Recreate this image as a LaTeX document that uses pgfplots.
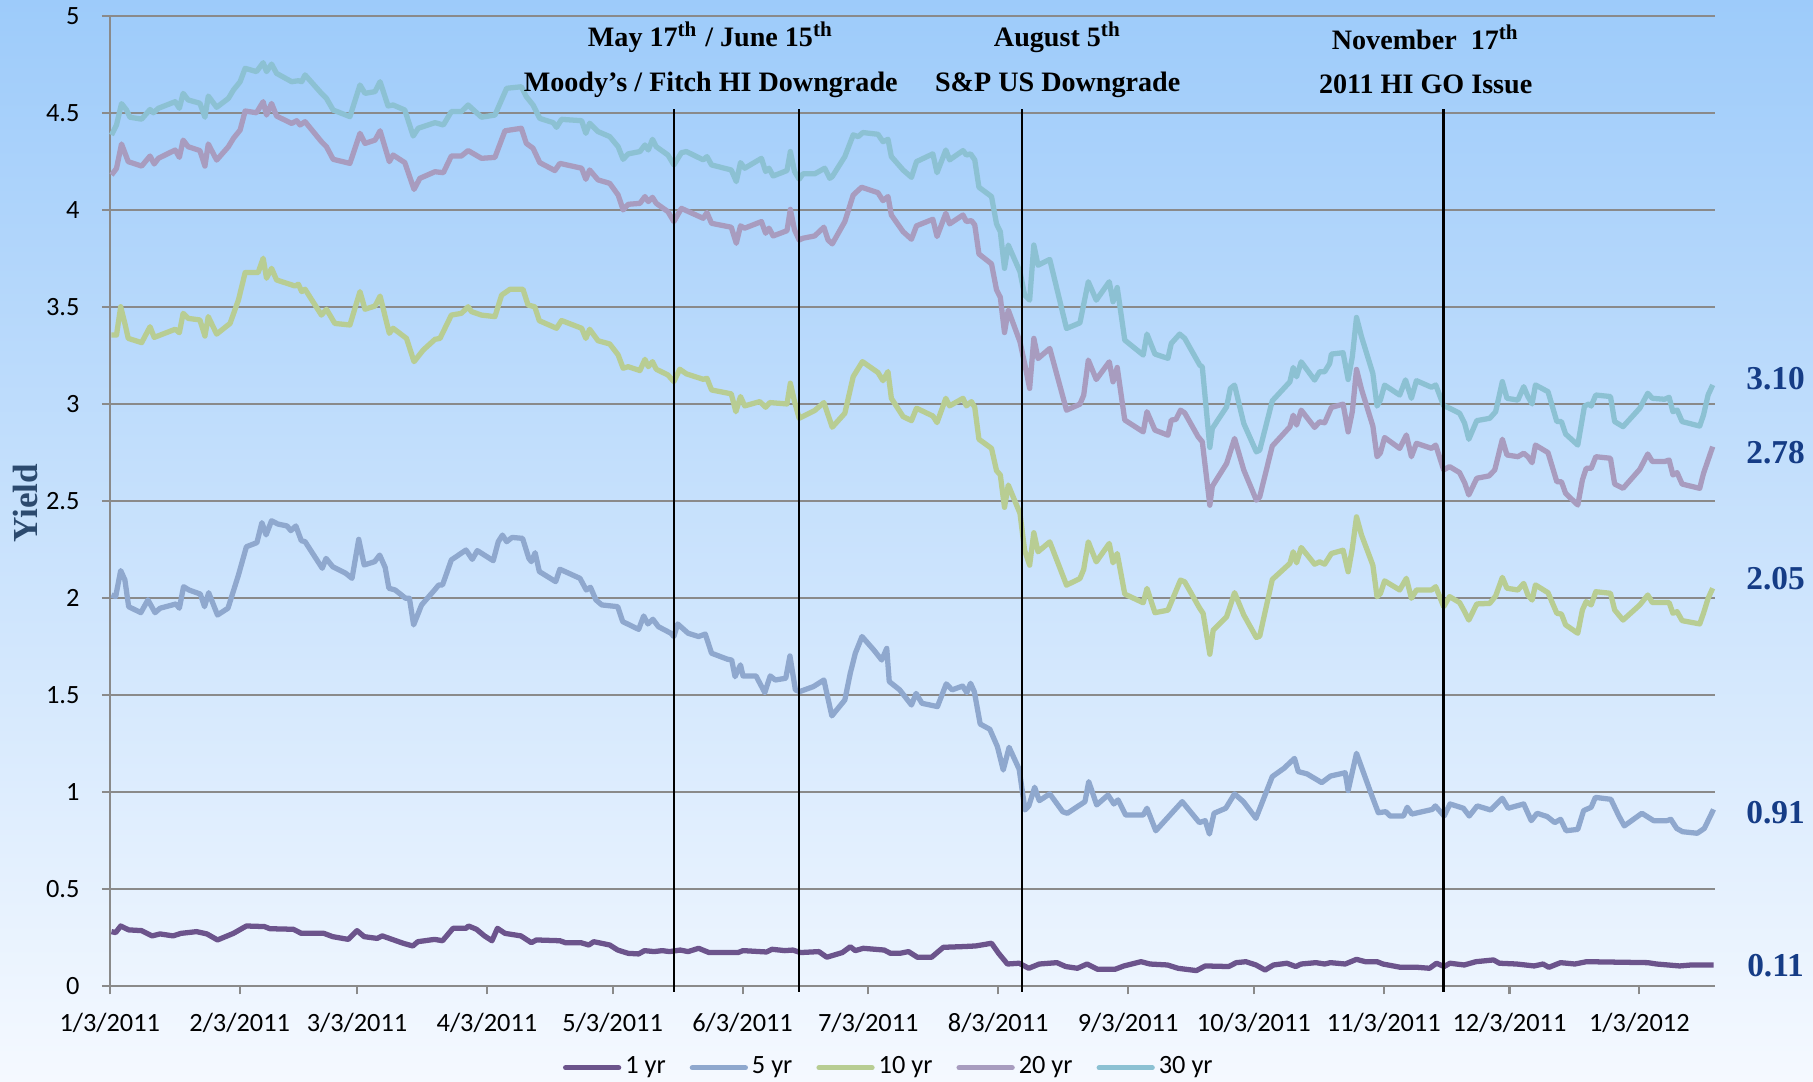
\documentclass[border=0pt]{standalone}
\usepackage{fontspec}
\setmainfont{Carlito}
\newfontfamily\antiqua{Liberation Serif}
\usepackage{pgfplots}
\usepackage{pgfplotstable}
\pgfplotsset{compat=1.18}
\definecolor{bgtop}{HTML}{9DCBFA}
\definecolor{bgbot}{HTML}{F5F9FF}
\definecolor{gridgray}{HTML}{8A8A8A}
\definecolor{oneyr}{HTML}{6C548C}
\definecolor{fiveyr}{HTML}{8FA8CE}
\definecolor{tenyr}{HTML}{B8CD93}
\definecolor{twentyyr}{HTML}{A89CBF}
\definecolor{thirtyyr}{HTML}{8CC1D3}
\definecolor{endlbl}{HTML}{153C86}
\definecolor{ylab}{HTML}{2C4A6E}

% x = days since 1/3/2011
\pgfplotstableread{
d y
0.4 0.282
1.4 0.277
2.6 0.311
4.5 0.291
7.6 0.287
10.1 0.26
12.0 0.27
15.1 0.26
17.0 0.273
20.7 0.282
23.2 0.27
25.7 0.239
29.5 0.273
32.6 0.311
36.9 0.308
38.2 0.297
43.8 0.294
45.7 0.273
51.1 0.273
53.2 0.256
56.9 0.242
59.0 0.287
60.7 0.256
63.8 0.247
65.0 0.26
70.0 0.222
72.3 0.208
73.5 0.23
77.5 0.242
79.4 0.235
81.9 0.299
85.0 0.299
85.6 0.311
87.5 0.294
89.4 0.26
91.2 0.235
92.5 0.299
94.3 0.273
98.1 0.26
100.6 0.225
101.8 0.239
107.4 0.235
108.7 0.225
112.4 0.225
114.3 0.213
115.5 0.23
119.3 0.213
121.2 0.187
123.7 0.17
126.2 0.167
127.6 0.184
129.9 0.179
131.8 0.184
133.6 0.179
136.1 0.187
138.0 0.179
140.5 0.196
143.0 0.174
149.9 0.174
151.1 0.184
156.7 0.177
158.0 0.191
161.1 0.184
163.0 0.187
164.8 0.174
169.2 0.179
171.1 0.15
174.8 0.174
176.7 0.204
177.9 0.184
179.8 0.196
184.8 0.187
186.3 0.17
188.5 0.17
190.6 0.179
192.7 0.15
196.1 0.15
198.9 0.201
203.8 0.205
206.6 0.208
208.0 0.213
210.4 0.222
212.1 0.17
214.2 0.115
217.0 0.119
219.3 0.093
221.8 0.115
226.0 0.122
228.1 0.102
230.9 0.093
233.2 0.115
235.7 0.088
239.9 0.088
242.0 0.105
246.1 0.127
248.2 0.115
252.4 0.11
254.9 0.093
259.3 0.081
261.4 0.105
267.0 0.102
268.8 0.122
271.1 0.127
273.5 0.11
275.7 0.084
277.7 0.11
280.9 0.119
283.0 0.102
284.3 0.115
287.8 0.122
289.9 0.115
291.3 0.122
294.8 0.115
297.5 0.139
299.6 0.127
302.4 0.127
303.8 0.115
308.0 0.098
312.1 0.098
314.9 0.093
316.6 0.119
318.4 0.102
319.8 0.119
323.2 0.11
326.0 0.127
330.2 0.136
331.6 0.119
335.7 0.115
339.9 0.105
342.0 0.115
343.4 0.098
346.2 0.122
349.6 0.115
352.4 0.127
367.0 0.122
369.1 0.115
374.6 0.105
377.4 0.11
382.7 0.11
}\tOne

\pgfplotstableread{
d y
0.4 2.017
1.4 2.009
2.6 2.143
3.6 2.095
4.5 1.957
7.4 1.926
9.1 1.992
10.8 1.926
12.0 1.949
15.8 1.971
16.6 1.949
17.6 2.06
18.9 2.043
21.6 2.022
22.6 1.957
23.6 2.029
25.7 1.914
28.2 1.949
30.7 2.12
32.6 2.266
35.1 2.287
36.3 2.39
37.3 2.327
38.6 2.4
40.1 2.383
42.3 2.373
43.2 2.349
44.4 2.373
45.7 2.297
46.6 2.292
50.7 2.155
51.6 2.206
53.2 2.163
56.3 2.129
57.8 2.103
59.4 2.304
60.7 2.172
63.2 2.189
64.4 2.223
65.7 2.16
66.6 2.052
68.1 2.043
70.6 2.0
71.5 2.0
72.5 1.863
74.4 1.966
77.5 2.043
78.5 2.069
79.4 2.069
81.5 2.198
85.0 2.249
86.5 2.201
87.7 2.246
91.5 2.194
92.7 2.292
93.7 2.326
94.7 2.292
96.0 2.314
98.5 2.309
100.0 2.206
100.6 2.189
101.5 2.235
102.5 2.138
106.4 2.086
107.4 2.15
112.2 2.103
113.7 2.043
114.7 2.057
116.0 1.992
117.4 1.966
121.2 1.957
122.4 1.88
126.2 1.84
127.4 1.909
128.4 1.868
129.6 1.892
130.9 1.854
133.9 1.82
134.6 1.803
135.5 1.868
138.0 1.82
140.5 1.803
142.1 1.816
143.6 1.717
147.4 1.686
148.4 1.682
149.2 1.596
150.5 1.657
151.1 1.6
154.2 1.6
156.3 1.514
157.6 1.6
158.8 1.579
161.3 1.588
162.3 1.703
163.6 1.528
164.6 1.519
167.9 1.545
170.4 1.579
172.3 1.394
175.4 1.476
176.7 1.614
177.9 1.717
179.5 1.803
182.3 1.734
184.2 1.682
185.4 1.742
186.0 1.571
188.5 1.528
191.3 1.45
192.4 1.51
193.8 1.459
197.5 1.442
199.6 1.559
201.0 1.528
203.5 1.548
204.5 1.514
205.4 1.562
206.3 1.519
207.7 1.352
210.0 1.325
211.8 1.236
213.2 1.115
214.6 1.232
217.0 1.119
218.4 0.909
219.3 0.93
220.7 1.026
221.8 0.957
224.3 0.992
227.4 0.9
228.5 0.892
232.7 0.952
233.6 1.055
235.5 0.935
238.2 0.986
239.6 0.94
240.6 0.961
242.4 0.883
246.6 0.883
247.5 0.918
249.6 0.802
255.9 0.952
260.0 0.844
261.4 0.854
262.4 0.785
263.5 0.892
266.3 0.918
268.4 0.992
270.5 0.952
273.5 0.866
277.4 1.081
280.2 1.124
282.7 1.175
283.6 1.107
285.7 1.095
289.2 1.05
291.3 1.084
294.8 1.101
295.5 1.009
297.5 1.201
301.0 0.992
302.7 0.895
304.5 0.9
305.5 0.878
308.7 0.878
309.6 0.923
310.7 0.888
315.6 0.912
316.3 0.93
318.4 0.878
319.8 0.94
323.0 0.918
324.4 0.878
326.3 0.93
329.5 0.909
332.3 0.969
333.7 0.918
337.4 0.94
339.2 0.854
340.6 0.892
343.0 0.875
344.8 0.844
346.2 0.861
347.5 0.802
350.3 0.809
351.7 0.906
353.5 0.923
354.5 0.974
358.2 0.964
360.1 0.878
361.4 0.827
365.6 0.892
368.4 0.854
371.6 0.854
372.5 0.861
373.9 0.814
375.3 0.797
378.8 0.789
380.5 0.814
382.7 0.912
}\tFive

\pgfplotstableread{
d y
0.4 3.357
1.6 3.357
2.6 3.503
3.6 3.417
4.4 3.34
7.6 3.318
9.6 3.4
10.6 3.345
15.6 3.387
16.6 3.369
17.5 3.469
18.7 3.443
21.5 3.435
22.7 3.352
23.5 3.452
25.5 3.362
28.7 3.417
30.7 3.538
32.3 3.679
35.4 3.679
36.6 3.753
37.4 3.65
38.6 3.701
39.8 3.641
44.2 3.61
45.0 3.619
45.8 3.581
46.6 3.593
50.5 3.46
51.7 3.49
53.7 3.417
57.3 3.409
59.7 3.581
60.9 3.49
63.3 3.507
64.5 3.558
66.7 3.366
67.6 3.392
70.8 3.34
72.6 3.22
74.8 3.28
77.6 3.335
78.8 3.34
81.5 3.46
83.9 3.469
85.5 3.503
86.3 3.478
88.7 3.46
91.9 3.452
93.5 3.563
95.5 3.593
98.6 3.593
99.8 3.512
101.4 3.503
102.5 3.431
106.6 3.392
107.8 3.432
112.6 3.392
113.6 3.34
114.5 3.387
116.5 3.328
119.3 3.311
121.3 3.255
122.5 3.186
123.7 3.194
126.5 3.174
127.7 3.232
128.5 3.194
129.5 3.22
130.4 3.181
133.2 3.151
134.6 3.117
136.0 3.181
137.6 3.157
141.6 3.129
142.5 3.134
143.6 3.074
148.3 3.054
149.4 2.962
150.5 3.04
151.5 2.992
155.1 3.014
156.5 2.985
157.5 3.009
161.6 3.002
162.4 3.109
163.4 3.014
164.5 2.928
168.2 2.968
170.4 3.009
172.4 2.882
175.4 2.954
177.4 3.143
179.6 3.22
183.3 3.164
184.5 3.122
185.7 3.169
186.5 3.031
189.3 2.937
191.3 2.916
192.5 2.98
196.4 2.94
197.4 2.906
199.5 3.031
200.4 2.992
203.6 3.031
204.4 2.992
205.6 3.014
206.4 2.985
207.4 2.82
210.4 2.773
211.6 2.658
212.5 2.636
213.5 2.469
214.4 2.584
217.2 2.438
218.3 2.248
219.5 2.171
220.5 2.338
221.5 2.24
224.3 2.291
228.3 2.068
231.5 2.102
232.4 2.149
233.5 2.291
235.4 2.188
238.5 2.283
239.4 2.183
240.4 2.231
242.2 2.022
246.6 1.977
247.5 2.051
249.4 1.926
252.5 1.939
255.5 2.094
256.5 2.085
260.1 1.948
260.9 1.922
262.5 1.712
263.3 1.836
266.5 1.905
268.4 2.029
270.6 1.914
273.6 1.798
274.4 1.805
277.4 2.097
281.6 2.18
282.4 2.24
283.2 2.183
284.3 2.262
287.5 2.176
288.7 2.188
289.9 2.176
291.5 2.231
294.3 2.248
295.5 2.137
296.5 2.257
297.5 2.42
298.7 2.326
301.4 2.171
302.4 2.008
303.2 2.025
304.2 2.09
307.8 2.043
309.4 2.103
310.6 2.0
311.8 2.043
315.4 2.043
316.4 2.06
318.3 1.957
319.7 2.009
322.1 1.978
323.3 1.931
324.3 1.888
326.2 1.971
329.3 1.974
330.7 2.012
332.3 2.108
333.4 2.052
336.0 2.043
337.4 2.077
338.4 2.017
339.4 1.991
340.2 2.069
343.2 2.029
345.3 1.923
346.4 1.919
347.4 1.863
350.3 1.82
351.4 1.94
352.3 1.983
353.5 1.966
354.6 2.034
358.1 2.026
359.1 1.94
361.1 1.888
365.1 1.966
367.0 2.017
368.1 1.978
372.1 1.978
373.0 1.923
374.0 1.931
375.2 1.885
379.4 1.868
380.3 1.923
381.4 2.0
382.5 2.052
}\tTen

\pgfplotstableread{
d y
0.4 4.182
1.6 4.216
2.8 4.342
4.4 4.251
7.6 4.228
9.6 4.28
10.6 4.239
11.6 4.268
15.6 4.311
16.6 4.273
17.5 4.362
18.7 4.328
21.5 4.308
22.7 4.228
23.5 4.342
25.5 4.259
28.3 4.328
29.5 4.371
31.1 4.414
32.3 4.512
35.0 4.503
36.6 4.56
37.4 4.491
38.6 4.551
39.8 4.486
43.4 4.448
44.6 4.462
45.4 4.44
46.6 4.457
50.5 4.354
51.7 4.328
53.3 4.263
57.3 4.242
59.7 4.397
60.9 4.345
63.3 4.362
64.5 4.41
66.7 4.251
67.6 4.285
70.4 4.246
72.6 4.108
74.0 4.165
77.6 4.199
79.6 4.194
81.5 4.28
83.9 4.28
85.5 4.308
88.7 4.268
91.9 4.273
94.3 4.41
98.2 4.423
99.4 4.345
101.0 4.32
102.6 4.246
106.2 4.205
107.4 4.242
112.6 4.217
113.6 4.16
114.5 4.208
116.5 4.157
119.3 4.139
121.3 4.079
122.5 4.002
123.7 4.031
126.5 4.036
127.7 4.071
128.5 4.045
129.5 4.067
130.4 4.036
133.2 3.993
134.6 3.942
136.4 4.01
141.6 3.959
142.5 3.988
143.6 3.933
148.3 3.913
149.5 3.83
150.5 3.92
151.5 3.908
155.5 3.942
156.5 3.882
157.3 3.908
158.3 3.868
161.6 3.895
162.4 4.005
163.4 3.899
164.5 3.847
165.4 3.856
168.2 3.868
170.4 3.913
171.4 3.847
172.4 3.827
175.4 3.942
177.4 4.079
179.4 4.119
183.3 4.091
184.5 4.05
185.7 4.071
186.5 3.976
189.3 3.89
191.3 3.851
192.5 3.92
196.4 3.954
197.4 3.865
199.5 3.985
200.4 3.93
203.6 3.976
204.4 3.942
205.6 3.947
206.4 3.925
207.4 3.775
210.4 3.724
211.6 3.59
212.5 3.552
213.5 3.37
214.4 3.486
217.2 3.322
218.3 3.211
219.5 3.082
220.5 3.34
221.5 3.236
224.3 3.288
228.3 2.97
231.5 3.001
232.4 3.047
233.5 3.228
235.4 3.128
238.5 3.219
239.4 3.116
240.4 3.19
242.2 2.919
246.6 2.858
247.5 2.962
249.4 2.867
252.5 2.841
253.3 2.919
254.4 2.922
255.5 2.97
256.5 2.956
259.7 2.833
260.7 2.807
262.5 2.48
263.1 2.578
266.5 2.695
268.4 2.824
270.6 2.661
273.6 2.506
274.4 2.523
277.4 2.785
281.6 2.884
282.4 2.944
283.2 2.893
284.3 2.97
287.5 2.881
288.7 2.91
289.9 2.905
291.5 2.984
294.3 3.001
295.5 2.858
296.5 2.962
297.5 3.18
298.7 3.077
301.4 2.888
302.4 2.73
303.2 2.75
304.2 2.829
307.8 2.773
309.4 2.842
310.6 2.73
311.8 2.799
315.4 2.773
316.4 2.79
318.3 2.662
319.7 2.679
322.1 2.648
323.3 2.596
324.3 2.533
326.2 2.619
329.1 2.631
330.5 2.662
332.3 2.82
333.4 2.739
336.0 2.73
337.4 2.748
338.4 2.73
339.4 2.699
340.2 2.79
343.2 2.751
345.3 2.601
346.4 2.601
347.4 2.541
350.3 2.481
351.4 2.61
352.3 2.67
353.5 2.67
354.6 2.73
358.1 2.722
359.1 2.589
361.1 2.567
365.1 2.665
367.0 2.744
368.1 2.705
371.0 2.705
372.1 2.713
373.0 2.636
374.0 2.648
375.2 2.589
379.4 2.567
380.3 2.644
381.4 2.713
382.5 2.782
}\tTwenty

\pgfplotstableread{
d y
0.4 4.388
1.6 4.44
2.8 4.55
4.0 4.517
4.8 4.48
7.6 4.47
9.6 4.52
10.4 4.503
11.6 4.526
15.6 4.56
16.6 4.526
17.5 4.603
18.7 4.569
21.5 4.552
22.7 4.48
23.5 4.589
25.5 4.531
28.3 4.577
29.5 4.62
31.1 4.663
32.3 4.732
35.0 4.715
36.6 4.761
37.4 4.715
38.6 4.754
39.8 4.706
43.4 4.663
45.0 4.668
45.8 4.663
46.6 4.698
50.5 4.603
51.7 4.577
53.3 4.517
57.3 4.483
59.7 4.646
60.9 4.603
63.3 4.612
64.5 4.663
66.4 4.538
67.6 4.543
70.4 4.517
72.4 4.383
73.6 4.423
77.6 4.452
79.6 4.44
81.5 4.509
83.9 4.509
85.5 4.543
88.7 4.48
91.9 4.491
94.7 4.629
98.2 4.637
99.4 4.586
101.0 4.543
102.6 4.474
105.8 4.452
106.6 4.428
107.8 4.469
112.6 4.462
113.6 4.397
114.5 4.449
116.5 4.406
119.3 4.38
121.3 4.328
122.5 4.263
123.7 4.291
126.5 4.303
127.7 4.337
128.5 4.311
129.5 4.366
130.4 4.328
133.2 4.285
134.6 4.234
136.4 4.297
137.6 4.303
141.6 4.26
142.5 4.277
143.6 4.234
148.3 4.208
149.5 4.148
150.5 4.246
151.5 4.217
155.5 4.268
156.5 4.2
157.3 4.217
158.3 4.177
161.6 4.205
162.4 4.303
163.4 4.2
164.5 4.16
165.4 4.188
168.2 4.188
170.6 4.217
171.8 4.165
172.4 4.174
175.4 4.277
177.4 4.389
178.6 4.38
179.7 4.401
183.3 4.392
184.5 4.354
185.7 4.366
186.5 4.277
189.3 4.208
191.3 4.17
192.5 4.251
196.4 4.291
197.4 4.194
199.5 4.311
200.4 4.26
203.6 4.308
204.4 4.285
205.4 4.291
206.4 4.26
207.4 4.119
210.4 4.071
211.6 3.93
212.5 3.89
213.5 3.701
214.4 3.821
217.2 3.683
218.3 3.563
219.5 3.537
220.5 3.821
221.5 3.717
224.3 3.747
228.3 3.391
231.5 3.42
233.5 3.632
235.4 3.537
238.5 3.632
239.4 3.529
240.4 3.602
242.2 3.331
246.6 3.254
247.5 3.362
249.4 3.259
252.5 3.237
253.3 3.314
255.3 3.362
256.5 3.34
260.1 3.202
260.7 3.193
262.5 2.778
263.1 2.876
266.5 2.987
267.4 3.082
268.4 3.099
270.6 2.901
273.6 2.755
274.4 2.764
277.4 3.018
281.6 3.116
282.4 3.19
283.2 3.142
284.3 3.219
287.5 3.125
288.7 3.168
289.9 3.168
291.1 3.211
291.5 3.259
294.3 3.266
295.5 3.128
296.5 3.245
297.5 3.448
298.7 3.348
301.4 3.159
302.4 2.991
303.2 3.022
304.2 3.099
307.8 3.048
309.2 3.126
310.6 3.031
311.8 3.122
315.4 3.088
316.4 3.1
318.3 2.992
319.7 2.98
322.1 2.954
323.3 2.902
324.3 2.82
326.2 2.916
329.3 2.928
330.7 2.962
332.3 3.117
333.4 3.031
336.0 3.022
337.4 3.091
338.4 3.04
339.4 3.002
340.2 3.1
343.2 3.065
345.3 2.911
346.4 2.911
347.4 2.847
350.3 2.79
351.9 2.991
353.0 3.002
353.5 2.991
354.6 3.048
358.1 3.04
359.1 2.911
361.1 2.885
365.1 2.98
367.0 3.057
368.1 3.031
371.0 3.026
372.1 3.036
373.0 2.962
374.0 2.971
375.2 2.911
379.4 2.888
380.3 2.945
381.4 3.048
382.5 3.1
}\tThirty

\begin{document}
\begin{tikzpicture}
\shade[top color=bgtop,bottom color=bgbot] (-1.098,-0.947) rectangle (17.032,9.863);
\begin{axis}[at={(0,0)},anchor=south west,scale only axis,width=16.05cm,height=9.70cm,
 xmin=0,xmax=383,ymin=0,ymax=5,clip=false,
 axis x line*=bottom,axis y line*=left,axis line style={gridgray,line width=0.6pt},
 xtick={0,31,59,90,120,151,181,212,243,273,304,334,365},
 xticklabels={1/3/2011,2/3/2011,3/3/2011,4/3/2011,5/3/2011,6/3/2011,7/3/2011,8/3/2011,9/3/2011,10/3/2011,11/3/2011,12/3/2011,1/3/2012},
 ytick={0,0.5,1,1.5,2,2.5,3,3.5,4,4.5,5},
 ymajorgrids,grid style={gridgray,line width=0.6pt},
 tick align=outside,major tick length=0.8mm,tick style={gridgray,line width=0.6pt},
 /pgf/number format/assume math mode=true,
 ticklabel style={font=\fontsize{7.5}{9}\selectfont,text=black},
 xticklabel style={yshift=-0.6mm},yticklabel style={xshift=-1.0mm},
 ylabel={Yield},ylabel style={at={(axis description cs:-0.0528,0.498)},anchor=center,
  font=\antiqua\bfseries\fontsize{10}{12}\selectfont,text=ylab},
 legend columns=5,
 legend style={at={(0.486,-0.084)},anchor=center,draw=none,fill=none,
  font=\fontsize{7.5}{9}\selectfont,column sep=0pt,inner sep=0pt,
  nodes={inner xsep=0.4mm},
  /tikz/every even column/.append style={column sep=2.0mm}},
 legend image code/.code={\draw[#1,line width=1.5pt,line cap=round] (0mm,0mm) -- (5.3mm,0mm);},
 every axis plot/.append style={line width=1.5pt,line join=round}]
 \addplot[oneyr] table[x=d,y=y]{\tOne}; \addlegendentry{1 yr}
 \addplot[fiveyr] table[x=d,y=y]{\tFive}; \addlegendentry{5 yr}
 \addplot[tenyr] table[x=d,y=y]{\tTen}; \addlegendentry{10 yr}
 \addplot[twentyyr] table[x=d,y=y]{\tTwenty}; \addlegendentry{20 yr}
 \addplot[thirtyyr] table[x=d,y=y]{\tThirty}; \addlegendentry{30 yr}
 % event lines
 \addplot[black,line width=0.7pt,forget plot] coordinates {(134.6,4.52)(134.6,-0.03)};
 \addplot[black,line width=0.7pt,forget plot] coordinates {(164.4,4.52)(164.4,-0.03)};
 \addplot[black,line width=0.7pt,forget plot] coordinates {(217.7,4.52)(217.7,-0.03)};
 \addplot[black,line width=0.7pt,forget plot] coordinates {(318.3,4.52)(318.3,-0.03)};
 \begin{scope}[font=\antiqua\bfseries\fontsize{8}{10}\selectfont]
  \node at (axis cs:143.4,4.893) {May 17\textsuperscript{th} / June 15\textsuperscript{th}};
  \node at (axis cs:143.4,4.649) {Moody’s / Fitch HI Downgrade};
  \node at (axis cs:226.2,4.893) {August 5\textsuperscript{th}};
  \node at (axis cs:226.2,4.649) {S\&P US Downgrade};
  \node at (axis cs:314.0,4.893) {November\ \ 17\textsuperscript{th}};
  \node at (axis cs:314.0,4.649) {2011 HI GO Issue};
 \end{scope}
 \begin{scope}[font=\antiqua\bfseries\fontsize{9.5}{11}\selectfont,text=endlbl]
  \node at (axis cs:397.5,3.13) {3.10};
  \node at (axis cs:397.5,2.75) {2.78};
  \node at (axis cs:397.5,2.104) {2.05};
  \node at (axis cs:397.5,0.894) {0.91};
  \node at (axis cs:397.5,0.107) {0.11};
 \end{scope}
\end{axis}
\pgfresetboundingbox
\path (-1.098,-0.947) rectangle (17.032,9.863);
\end{tikzpicture}
\end{document}
